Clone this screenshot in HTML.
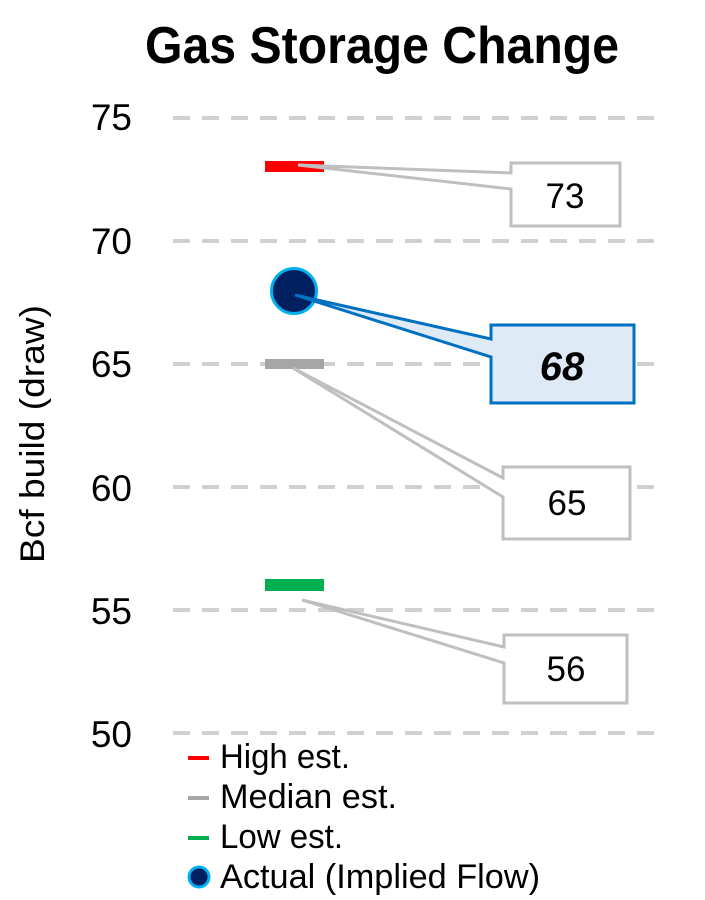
<!DOCTYPE html>
<html>
<head>
<meta charset="utf-8">
<style>
  html, body { margin: 0; padding: 0; background: #ffffff; }
  svg { display: block; }
  text { font-family: "Liberation Sans", Arial, sans-serif; fill: #000; }
</style>
</head>
<body>
<svg width="705" height="900" viewBox="0 0 705 900" xmlns="http://www.w3.org/2000/svg">
  <rect width="705" height="900" fill="#ffffff"/>

  <!-- Title -->
  <text x="382" y="63" font-size="52" font-weight="bold" text-anchor="middle" textLength="474" lengthAdjust="spacingAndGlyphs">Gas Storage Change</text>

  <!-- Gridlines -->
  <g stroke="#D0D0D0" stroke-width="4" stroke-dasharray="17 12">
    <line x1="173" y1="118" x2="656" y2="118"/>
    <line x1="173" y1="241" x2="656" y2="241"/>
    <line x1="173" y1="364" x2="656" y2="364"/>
    <line x1="173" y1="487" x2="656" y2="487"/>
    <line x1="173" y1="610" x2="656" y2="610"/>
    <line x1="173" y1="733" x2="656" y2="733"/>
  </g>

  <!-- Y tick labels -->
  <g font-size="37" text-anchor="end">
    <text x="132" y="130">75</text>
    <text x="132" y="254">70</text>
    <text x="132" y="377">65</text>
    <text x="132" y="501">60</text>
    <text x="132" y="624">55</text>
    <text x="132" y="747">50</text>
  </g>

  <!-- Axis title -->
  <text transform="translate(44,434) rotate(-90)" font-size="34" text-anchor="middle" textLength="258" lengthAdjust="spacingAndGlyphs">Bcf build (draw)</text>

  <!-- Bars -->
  <rect x="265" y="161" width="59" height="11" fill="#FF0000"/>
  <rect x="265" y="359" width="59" height="10" fill="#A6A6A6"/>
  <rect x="265" y="579" width="59" height="12" fill="#00B050"/>

  <!-- Actual circle -->
  <circle cx="294" cy="291" r="22.5" fill="#002060" stroke="#00B0F0" stroke-width="3"/>

  <!-- Callouts -->
  <g stroke="#BFBFBF" stroke-width="3" fill="#ffffff" stroke-linejoin="miter">
    <polygon points="511,163 620,163 620,226 511,226 511,189 298,165 511,173"/>
    <polygon points="503,467 630,467 630,539 503,539 503,497 293,368 503,478"/>
    <polygon points="504,635 627,635 627,703 504,703 504,663 302,600 504,647"/>
  </g>
  <polygon points="491,325 634,325 634,403 491,403 491,357 295,295 491,339" fill="#DEEBF7" stroke="#0070C0" stroke-width="3"/>

  <g font-size="35" text-anchor="middle">
    <text x="565" y="208">73</text>
    <text x="567" y="515">65</text>
    <text x="566" y="681">56</text>
  </g>
  <text x="562" y="380" font-size="40" font-weight="bold" font-style="italic" text-anchor="middle">68</text>

  <!-- Legend -->
  <rect x="188" y="756" width="21" height="4" fill="#FF0000"/>
  <rect x="188" y="796" width="21" height="4" fill="#A6A6A6"/>
  <rect x="188" y="836" width="21" height="4" fill="#00B050"/>
  <circle cx="199" cy="877" r="10" fill="#002060" stroke="#00B0F0" stroke-width="3"/>
  <g font-size="34">
    <text x="220" y="768" textLength="130" lengthAdjust="spacingAndGlyphs">High est.</text>
    <text x="220" y="808" textLength="177" lengthAdjust="spacingAndGlyphs">Median est.</text>
    <text x="220" y="848" textLength="123" lengthAdjust="spacingAndGlyphs">Low est.</text>
    <text x="220" y="888" textLength="320" lengthAdjust="spacingAndGlyphs">Actual (Implied Flow)</text>
  </g>
</svg>
</body>
</html>
